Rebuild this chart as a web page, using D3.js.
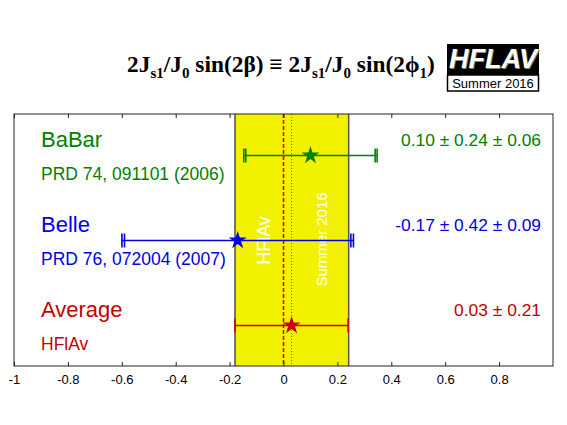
<!DOCTYPE html>
<html><head><meta charset="utf-8">
<script src="https://cdn.jsdelivr.net/npm/d3@7"></script>
<style>body{margin:0;background:#fff}</style>
</head><body><svg id="c" width="567" height="425"></svg>
<script>
const experiments = ["BaBar", "Belle", "Average"];
const references = ["PRD 74, 091101 (2006)", "PRD 76, 072004 (2007)", "HFlAv"];
const centralValues = [0.10, -0.17, 0.03];
const statErrors = [0.24, 0.42, 0.21];
const systErrors = [0.06, 0.09, 0];
const valueLabels = ["0.10 \u00b1 0.24 \u00b1 0.06", "-0.17 \u00b1 0.42 \u00b1 0.09", "0.03 \u00b1 0.21"];
const colors = ["#008000", "#0000e6", "#c40000"];
const xTicks = [-1, -0.8, -0.6, -0.4, -0.2, 0, 0.2, 0.4, 0.6, 0.8];
const tickLabels = ["-1", "-0.8", "-0.6", "-0.4", "-0.2", "0", "0.2", "0.4", "0.6", "0.8"];
const avgValue = 0.03, avgError = 0.21;

const svg = d3.select("#c");
const L = 14, R = 553, T = 114, B = 366;
const x = d3.scaleLinear().domain([-1, 1]).range([L, R]);
const y = d3.scalePoint().domain(experiments).range([155.5, 325.5]);
const sans = "'Liberation Sans', Arial, Helvetica, sans-serif";

// average band
svg.append("rect").attr("x", x(avgValue - avgError)).attr("y", T)
  .attr("width", x(avgValue + avgError) - x(avgValue - avgError)).attr("height", B - T)
  .attr("fill", "#f2f200");
svg.append("line").attr("x1", x(avgValue - avgError)).attr("x2", x(avgValue - avgError))
  .attr("y1", T).attr("y2", B).attr("stroke", "#000").attr("stroke-width", 1);
svg.append("line").attr("x1", x(avgValue + avgError) + 0.5).attr("x2", x(avgValue + avgError) + 0.5)
  .attr("y1", T).attr("y2", B).attr("stroke", "#555").attr("stroke-width", 1.5);

// reference lines
svg.append("line").attr("x1", x(0)).attr("x2", x(0)).attr("y1", T).attr("y2", B)
  .attr("stroke", "#cc0000").attr("stroke-width", 1.5).attr("stroke-dasharray", "4,2");
svg.append("line").attr("x1", x(avgValue)).attr("x2", x(avgValue)).attr("y1", T).attr("y2", B)
  .attr("stroke", "#666").attr("stroke-width", 1).attr("stroke-dasharray", "1,2");

// vertical texts
svg.append("text").attr("transform", `translate(270,${y("Belle")}) rotate(-90)`)
  .attr("text-anchor", "middle").attr("font-family", sans).attr("font-size", 18)
  .attr("fill", "#fff").text("HFlAv");
svg.append("text").attr("transform", `translate(327,${y("Belle") - 1}) rotate(-90)`)
  .attr("text-anchor", "middle").attr("font-family", sans).attr("font-size", 15)
  .attr("fill", "#fff").text("Summer 2016");

// frame
svg.append("rect").attr("x", L).attr("y", T).attr("width", R - L).attr("height", B - T)
  .attr("fill", "none").attr("stroke", "#222").attr("stroke-width", 1);

// axes
const axB = svg.append("g").attr("transform", `translate(0,${B})`)
  .call(d3.axisBottom(x).tickValues(xTicks).tickFormat((d, i) => tickLabels[i]).tickSize(-4).tickPadding(9));
axB.select(".domain").remove();
axB.selectAll("text").attr("font-family", sans).attr("font-size", 13).attr("fill", "#000");
axB.selectAll("line").attr("stroke", "#222");
const axT = svg.append("g").attr("transform", `translate(0,${T})`)
  .call(d3.axisTop(x).tickValues(xTicks).tickFormat("").tickSize(-4));
axT.select(".domain").remove();
axT.selectAll("line").attr("stroke", "#222");

// measurements
experiments.forEach((e, i) => {
  const c = colors[i], yy = y(e);
  const v = centralValues[i], s = statErrors[i], tot = Math.sqrt(statErrors[i] ** 2 + systErrors[i] ** 2);
  const g = svg.append("g");
  g.append("line").attr("x1", x(v - tot)).attr("x2", x(v + tot)).attr("y1", yy).attr("y2", yy)
    .attr("stroke", c).attr("stroke-width", 1.6);
  const caps = systErrors[i] > 0 ? [v - s, v + s, v - tot, v + tot] : [v - s, v + s];
  caps.forEach(cv => {
    g.append("line").attr("x1", x(cv)).attr("x2", x(cv)).attr("y1", yy - 7).attr("y2", yy + 7)
      .attr("stroke", c).attr("stroke-width", 1.6);
  });
  g.append("path").attr("d", d3.symbol(d3.symbolStar).size(100)())
    .attr("transform", `translate(${x(v)},${yy})`).attr("fill", c);

  svg.append("text").attr("x", 41).attr("y", yy - 8.5).attr("font-family", sans).attr("font-size", 22)
    .attr("fill", c).text(e);
  svg.append("text").attr("x", 41).attr("y", yy + 24.5).attr("font-family", sans).attr("font-size", 17.5)
    .attr("fill", c).text(references[i]);
  svg.append("text").attr("x", 541).attr("y", yy - 10).attr("text-anchor", "end")
    .attr("font-family", sans).attr("font-size", 17.4).attr("fill", c).text(valueLabels[i]);
});

// title
const serif = "'Liberation Serif', 'Times New Roman', serif";
const title = svg.append("text").attr("x", 127).attr("y", 72).attr("font-family", serif)
  .attr("font-weight", "bold").attr("font-size", 23.4).attr("fill", "#000");
const parts = [["2J", 0], ["s1", 1], ["/J", 0], ["0", 1], [" sin(2\u03b2) \u2261 2J", 0], ["s1", 1], ["/J", 0], ["0", 1], [" sin(2\u03d5", 0], ["1", 1], [")", 0]];
let prevSub = false;
parts.forEach(([t, sub]) => {
  const ts = title.append("tspan").text(t);
  if (sub && !prevSub) ts.attr("dy", 6).attr("font-size", 15);
  else if (!sub && prevSub) ts.attr("dy", -6);
  prevSub = !!sub;
});

// logo
svg.append("rect").attr("x", 447).attr("y", 44).attr("width", 92).attr("height", 31).attr("fill", "#000");
svg.append("text").attr("x", 494).attr("y", 69).attr("text-anchor", "middle").attr("font-family", sans)
  .attr("font-weight", "bold").attr("font-style", "italic").attr("font-size", 27)
  .attr("fill", "#7a8a6a").text("HFLAV");
svg.append("text").attr("x", 493).attr("y", 68).attr("text-anchor", "middle").attr("font-family", sans)
  .attr("font-weight", "bold").attr("font-style", "italic").attr("font-size", 27)
  .attr("fill", "#fff").text("HFLAV");
svg.append("rect").attr("x", 447.5).attr("y", 75).attr("width", 91).attr("height", 16).attr("fill", "#fff")
  .attr("stroke", "#000").attr("stroke-width", 1.5);
svg.append("text").attr("x", 493).attr("y", 88).attr("text-anchor", "middle").attr("font-family", sans)
  .attr("font-size", 13).attr("fill", "#000").text("Summer 2016");
</script></body></html>
